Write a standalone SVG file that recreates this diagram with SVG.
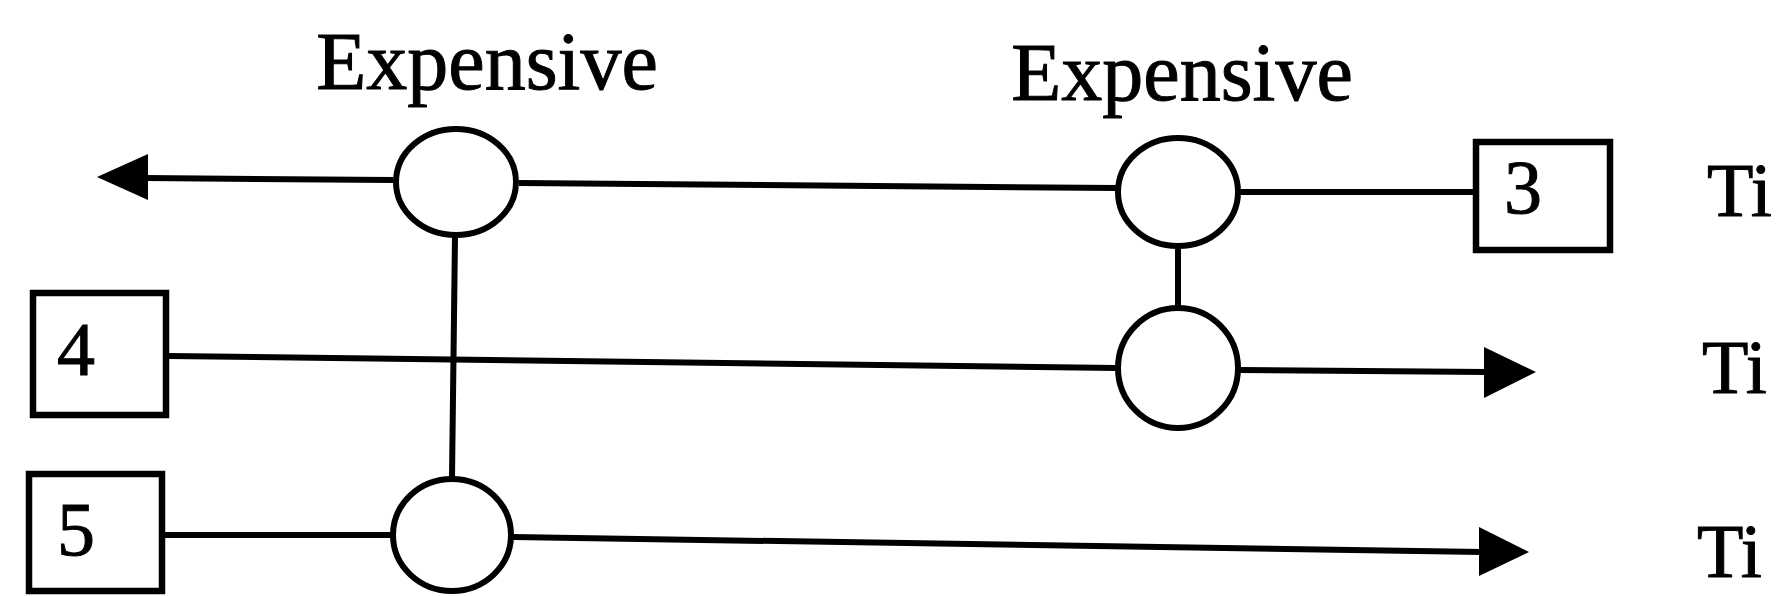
<svg xmlns="http://www.w3.org/2000/svg" width="1786" height="596" viewBox="0 0 1786 596">
<defs>
<style>
.ln{stroke:#000;stroke-width:6;fill:none}
.ah{fill:#000;stroke:none}
.nd{stroke:#000;stroke-width:6;fill:#fff}
.bx{stroke:#000;stroke-width:6.5;fill:#fff}
.t{font-family:"Liberation Serif","Times New Roman",serif;fill:#000;stroke:#000;stroke-width:1}
.lbl{font-size:82px}
.num{font-size:76px}
</style>
</defs>
<rect width="1786" height="596" fill="#fff"/>
<g id="connectors">
<line class="ln" x1="393" y1="180" x2="145" y2="178"/>
<polygon class="ah" points="97,177 148,154 148,200"/>
<line class="ln" x1="519" y1="183" x2="1117" y2="188"/>
<line class="ln" x1="1239" y1="192" x2="1474" y2="192"/>
<line class="ln" x1="1178" y1="246" x2="1178" y2="306"/>
<line class="ln" x1="455" y1="236" x2="452" y2="478"/>
<line class="ln" x1="168" y1="356" x2="1117" y2="368"/>
<line class="ln" x1="1239" y1="370" x2="1487" y2="372"/>
<polygon class="ah" points="1536,372 1484,347 1484,398"/>
<line class="ln" x1="164" y1="535" x2="391" y2="535"/>
<line class="ln" x1="513" y1="537" x2="1482" y2="552"/>
<polygon class="ah" points="1529,552 1479,527 1479,576"/>
</g>
<g id="label-expensive-1"><text class="t lbl" x="487" y="89" text-anchor="middle">Expensive</text></g>
<g id="label-expensive-2"><text class="t lbl" x="1182" y="100" text-anchor="middle">Expensive</text></g>
<g id="node-c1"><ellipse class="nd" cx="456" cy="182" rx="60" ry="53"/></g>
<g id="node-c2"><ellipse class="nd" cx="1178" cy="192" rx="60" ry="54"/></g>
<g id="node-c3"><ellipse class="nd" cx="452" cy="535" rx="59" ry="56"/></g>
<g id="node-c4"><ellipse class="nd" cx="1178" cy="368" rx="60" ry="60"/></g>
<g id="node-3"><rect class="bx" x="1476" y="142" width="134" height="108"/><text class="t num" x="1504" y="213">3</text></g>
<g id="node-4"><rect class="bx" x="33" y="293" width="133" height="122"/><text class="t num" x="57" y="375">4</text></g>
<g id="node-5"><rect class="bx" x="29" y="474" width="133" height="117"/><text class="t num" x="57" y="555">5</text></g>
<g id="label-ti-1"><text class="t num" x="1707" y="216">Ti</text></g>
<g id="label-ti-2"><text class="t num" x="1702" y="393">Ti</text></g>
<g id="label-ti-3"><text class="t num" x="1697" y="577">Ti</text></g>
</svg>
